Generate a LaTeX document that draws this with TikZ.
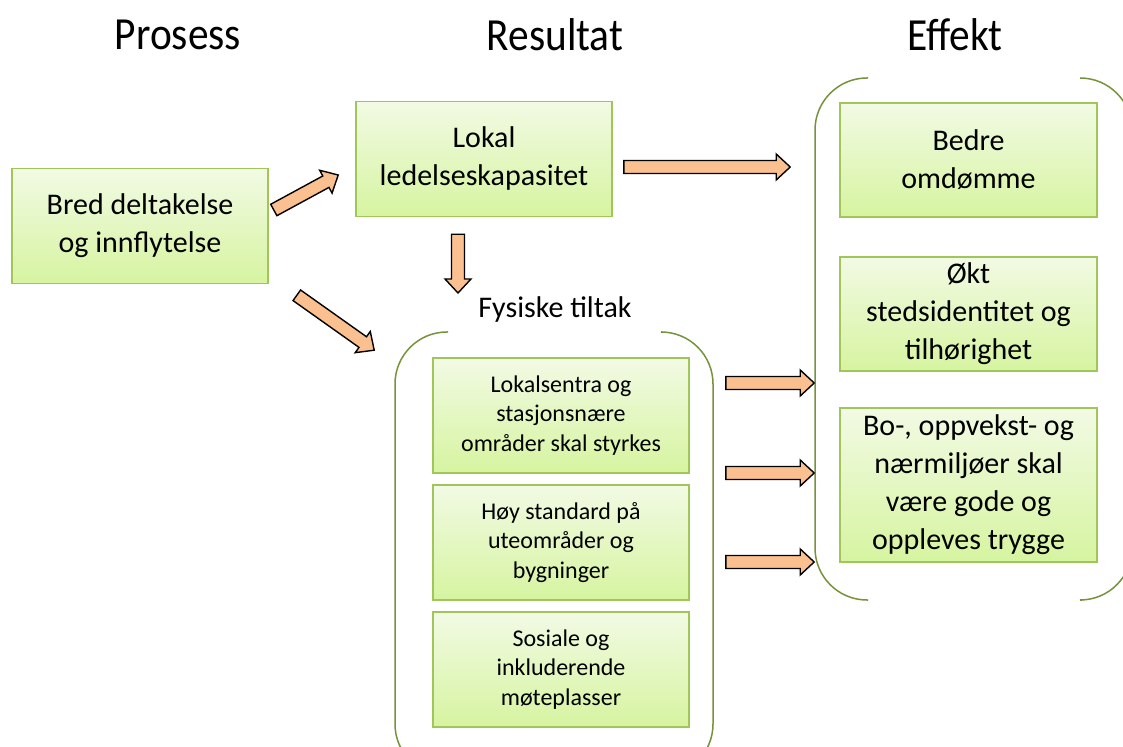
\documentclass[tikz,border=0pt]{standalone}
\usepackage{fontspec}
\setmainfont{Carlito}
\newfontfamily\headfont[FakeStretch=0.9]{Carlito}
\usetikzlibrary{calc,positioning}

\definecolor{boxtop}{RGB}{242,250,228}
\definecolor{boxbottom}{RGB}{214,244,160}
\definecolor{boxedge}{RGB}{160,198,90}
\definecolor{flowfill}{RGB}{250,192,144}
\definecolor{groupedge}{RGB}{118,146,60}

\tikzset{
  goalbox/.style={draw=boxedge, line width=0.8pt, top color=boxtop, bottom color=boxbottom,
    minimum width=128pt, minimum height=57.5pt, align=center, inner sep=0pt,
    font=\fontsize{15pt}{19pt}\selectfont},
  tiltakbox/.style={goalbox, font=\fontsize{12pt}{14.75pt}\selectfont},
  heading/.style={font=\headfont\fontsize{23pt}{27pt}\selectfont},
  group/.style={draw=groupedge, line width=0.75pt, rounded corners=26pt},
  flow/.style={draw=black, fill=flowfill, line width=0.7pt, line join=miter,
    to path={let \p1=(\tikztostart), \p2=(\tikztotarget),
      \n1={atan2(\y2-\y1,\x2-\x1)}, \n2={veclen(\x2-\x1,\y2-\y1)-7pt} in
      ($(\p1)+(\n1+90:3.25pt)$)
      -- ($(\p1)+(\n1:\n2)+(\n1+90:3.25pt)$)
      -- ($(\p1)+(\n1:\n2)+(\n1+90:6.5pt)$)
      -- (\p2)
      -- ($(\p1)+(\n1:\n2)+(\n1-90:6.5pt)$)
      -- ($(\p1)+(\n1:\n2)+(\n1-90:3.25pt)$)
      -- ($(\p1)+(\n1-90:3.25pt)$) -- cycle}}
}

\begin{document}
\begin{tikzpicture}[x=0.5pt, y=-0.5pt]
  \useasboundingbox (0,0) rectangle (1123,747);

  % Column headings
  \node[heading] (prosess)  at (178,35) {Prosess};
  \node[heading] (resultat) at (555,35) {Resultat};
  \node[heading] (effekt)   at (955,35) {Effekt};

  % Process
  \node[goalbox] (bred) at (140,226) {Bred deltakelse\\og innflytelse};

  % Results
  \node[goalbox] (lokal) at (484,159) {Lokal\\ledelseskapasitet};
  \node[font=\fontsize{15pt}{19pt}\selectfont] (tiltak) at (555,310) {Fysiske tiltak};
  \node[tiltakbox] (lokalsentra) at (561,415.5) {Lokalsentra og\\stasjonsnære\\områder skal styrkes};
  \node[tiltakbox, below=5.2pt of lokalsentra] (standard) {Høy standard på\\uteområder og\\bygninger};
  \node[tiltakbox, below=5.2pt of standard] (moteplasser) {Sosiale og\\inkluderende\\møteplasser};
  \draw[group] (448,332) -- (395,332) -- (395,776) -- (448,776);
  \draw[group] (662,332) -- (713,332) -- (713,776) -- (662,776);

  % Effects
  \node[goalbox, minimum width=128.5pt, minimum height=57pt] (bedre) at (968.5,160) {Bedre\\omdømme};
  \node[goalbox, minimum width=128.5pt, minimum height=57pt] (okt) at (968.5,314) {Økt\\stedsidentitet og\\tilhørighet};
  \node[goalbox, minimum width=128.5pt, minimum height=77pt] (bo) at (968.5,485) {Bo-, oppvekst- og\\nærmiljøer skal\\være gode og\\oppleves trygge};
  \draw[group] (868,78) -- (815,78) -- (815,600) -- (868,600);
  \draw[group] (1080,78) -- (1132,78) -- (1132,600) -- (1082,600);

  % Flow arrows
  \draw[flow] ([shift={(5,-16)}]bred.east) to ([shift={(-17,16)}]lokal.west);
  \draw[flow] ([shift={(28,11)}]bred.south east) to ([shift={(-58,-7)}]lokalsentra.north west);
  \draw[flow] ([shift={(-26,17)}]lokal.south) to ([shift={(-97,-17)}]tiltak.center);
  \draw[flow] ([shift={(11,8)}]lokal.east) to ([shift={(-49,7)}]bedre.west);
  \draw[flow] ([shift={(36,-32.5)}]lokalsentra.east) to ([shift={(-25,-102)}]bo.west);
  \draw[flow] ([shift={(36,57.5)}]lokalsentra.east) to ([shift={(-25,-12)}]bo.west);
  \draw[flow] ([shift={(36,146.5)}]lokalsentra.east) to ([shift={(-25,77)}]bo.west);
\end{tikzpicture}
\end{document}
